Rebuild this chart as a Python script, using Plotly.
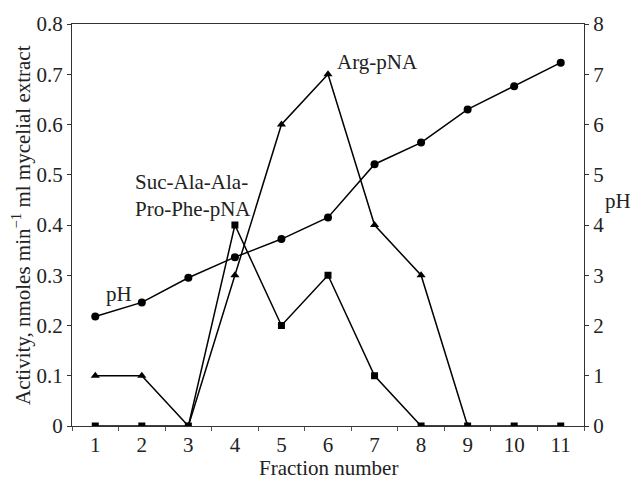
import plotly.graph_objects as go

fractions = [1, 2, 3, 4, 5, 6, 7, 8, 9, 10, 11]
arg_pna = [0.1, 0.1, 0.0, 0.3, 0.6, 0.7, 0.4, 0.3, 0.0]
suc_pna = [0.0, 0.0, 0.0, 0.4, 0.2, 0.3, 0.1, 0.0, 0.0, 0.0, 0.0]
ph_values = [2.18, 2.46, 2.95, 3.36, 3.72, 4.15, 5.21, 5.64, 6.30, 6.76, 7.23]
left_ticks = [0, 0.1, 0.2, 0.3, 0.4, 0.5, 0.6, 0.7, 0.8]
left_tick_text = ["0", "0.1", "0.2", "0.3", "0.4", "0.5", "0.6", "0.7", "0.8"]
right_ticks = [0, 1, 2, 3, 4, 5, 6, 7, 8]

FONT = "Liberation Serif"
FS = 21
line = dict(color="black", width=1.5)

fig = go.Figure()
fig.add_trace(go.Scatter(x=fractions[:len(arg_pna)], y=arg_pna, mode="lines+markers",
                         line=line, marker=dict(symbol="triangle-up", size=8, color="black"),
                         name="Arg-pNA"))
fig.add_trace(go.Scatter(x=fractions, y=suc_pna, mode="lines+markers",
                         line=line, marker=dict(symbol="square", size=7, color="black"),
                         name="Suc-Ala-Ala-Pro-Phe-pNA"))
fig.add_trace(go.Scatter(x=fractions, y=ph_values, mode="lines+markers", yaxis="y2",
                         line=line, marker=dict(symbol="circle", size=8, color="black"),
                         name="pH"))

fig.update_layout(
    width=631, height=481,
    margin=dict(l=72, r=47, t=19, b=55),
    paper_bgcolor="white", plot_bgcolor="white",
    showlegend=False,
    font=dict(family=FONT, size=FS, color="#222"),
    xaxis=dict(range=[0.5, 11.5], tickvals=fractions, ticktext=[str(f) for f in fractions],
               ticks="", showgrid=False, zeroline=False,
               showline=True, linecolor="#333", linewidth=1.2, mirror=True,
               minor=dict(ticks="outside", tick0=0.5, dtick=1, ticklen=4, tickcolor="#555",
                          showgrid=False),
               tickfont=dict(family=FONT, size=FS)),
    yaxis=dict(range=[0, 0.8], tickvals=left_ticks, ticktext=left_tick_text,
               ticks="outside", ticklen=4, tickcolor="#333", showgrid=False, zeroline=False,
               showline=True, linecolor="#333", linewidth=1.2,
               tickfont=dict(family=FONT, size=FS)),
    yaxis2=dict(range=[0, 8], tickvals=right_ticks, overlaying="y", side="right",
                ticks="outside", ticklen=4, tickcolor="#333", showgrid=False, zeroline=False,
                showline=True, linecolor="#333", linewidth=1.2,
                tickfont=dict(family=FONT, size=FS)),
)

ann = dict(showarrow=False, font=dict(family=FONT, size=FS, color="#222"))
fig.add_annotation(x=6.16, y=0.725, xref="x", yref="y", text="Arg-pNA",
                   xanchor="left", yanchor="middle", **ann)
fig.add_annotation(x=1.81, y=0.459, xref="x", yref="y", text="Suc-Ala-Ala-<br>Pro-Phe-pNA",
                   xanchor="left", yanchor="middle", align="left", **ann)
fig.add_annotation(x=1.19, y=0.263, xref="x", yref="y", text="pH",
                   xanchor="left", yanchor="middle", **ann)
fig.add_annotation(x=1.066, y=0.56, xref="paper", yref="paper", text="pH",
                   xanchor="center", yanchor="middle", **ann)
fig.add_annotation(x=-0.0996, y=0.5, xref="paper", yref="paper",
                   text="Activity, nmoles min<sup>−1</sup> ml mycelial extract",
                   textangle=-90, xanchor="center", yanchor="middle", **ann)
fig.add_annotation(x=0.5, y=-0.104, xref="paper", yref="paper", text="Fraction number",
                   xanchor="center", yanchor="middle", **ann)

fig.write_html("out.html", config={"displayModeBar": False},
               post_script="document.body.style.margin='0px';")
